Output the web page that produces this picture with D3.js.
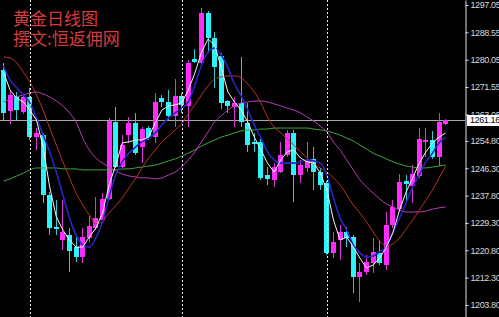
<!DOCTYPE html>
<html>
<head>
<meta charset="utf-8">
<script src="https://cdn.jsdelivr.net/npm/d3@7"></script>
<style>
  html, body { margin: 0; padding: 0; background: #000; }
  svg { display: block; }
</style>
</head>
<body>
<div id="chart-container"></div>
<script>
// daily gold candles: [open, high, low, close]
const ohlc = [
  [1276.8,1279.0,1261.3,1263.5],[1264.1,1270.6,1260.1,1269.1],[1268.8,1270.0,1261.3,1264.4],
  [1263.8,1269.1,1263.2,1268.5],[1268.5,1271.3,1255.1,1256.0],[1256.0,1258.8,1252.0,1257.3],
  [1256.6,1257.3,1235.5,1238.0],[1238.0,1238.9,1225.6,1227.7],[1228.0,1236.4,1225.6,1227.4],
  [1224.0,1236.4,1220.9,1226.5],[1225.6,1227.7,1214.1,1220.6],[1221.8,1224.9,1217.2,1218.7],
  [1218.7,1227.7,1216.9,1224.9],[1224.6,1231.5,1223.4,1228.4],[1227.7,1237.4,1227.1,1230.8],
  [1230.2,1238.6,1229.0,1236.8],[1236.8,1261.9,1236.4,1261.0],[1260.7,1265.3,1246.4,1246.7],
  [1246.7,1256.6,1246.4,1253.5],[1256.6,1262.2,1254.2,1260.4],[1260.4,1263.5,1250.4,1251.0],
  [1252.9,1259.1,1247.9,1258.5],[1258.8,1259.4,1255.1,1255.7],[1256.0,1269.7,1254.2,1266.9],
  [1268.1,1269.1,1265.3,1266.9],[1266.9,1270.6,1261.3,1262.6],[1262.6,1274.1,1259.1,1268.8],
  [1268.8,1269.7,1263.5,1266.0],[1265.7,1280.0,1259.1,1279.0],[1280.3,1283.4,1279.0,1279.3],
  [1279.0,1296.1,1278.7,1294.6],[1294.6,1295.2,1282.1,1286.8],[1286.8,1288.7,1271.3,1277.8],
  [1281.2,1282.1,1264.7,1266.6],[1267.2,1267.5,1263.5,1265.7],[1265.3,1268.5,1259.1,1266.6],
  [1266.6,1280.9,1259.1,1260.7],[1260.4,1266.6,1251.4,1253.5],[1254.5,1257.3,1251.4,1253.8],
  [1254.5,1255.7,1242.7,1243.3],[1244.2,1246.7,1241.1,1243.0],[1242.7,1247.9,1240.5,1246.7],
  [1245.1,1254.5,1244.8,1250.4],[1250.4,1258.2,1249.8,1257.3],[1257.3,1258.2,1235.8,1244.2],
  [1244.2,1248.9,1241.7,1247.3],[1246.4,1254.5,1245.1,1248.9],[1249.2,1252.9,1239.5,1245.1],
  [1245.1,1246.4,1239.5,1241.1],[1241.7,1242.3,1219.3,1220.0],[1220.0,1226.5,1218.4,1223.4],
  [1224.0,1228.7,1217.8,1226.5],[1226.5,1228.0,1221.8,1224.6],[1224.9,1225.6,1207.5,1212.5],
  [1212.5,1216.9,1204.7,1214.1],[1214.1,1219.3,1213.1,1217.2],[1216.9,1224.6,1213.7,1220.3],
  [1220.0,1224.0,1216.2,1216.9],[1216.2,1232.7,1214.7,1228.7],[1228.7,1236.4,1227.7,1234.3],
  [1233.6,1244.5,1232.7,1242.0],[1242.3,1244.2,1235.8,1241.4],[1240.8,1247.3,1235.5,1244.5],
  [1243.9,1258.8,1243.3,1255.4],[1254.5,1258.8,1249.8,1255.1],[1255.1,1257.9,1249.2,1249.8],
  [1249.8,1263.5,1247.0,1260.7],[1260.2,1261.6,1259.8,1261.16]
]

// moving averages per candle
const ma5 = [1276.2,1270.6,1268.1,1266.9,1264.4,1261.3,1252.9,1240.5,1231.2,1227.1,
  1224.0,1221.8,1221.8,1224.9,1227.7,1232.4,1241.1,1247.3,1254.2,1254.5,
  1255.1,1255.1,1256.0,1260.4,1264.4,1265.7,1266.0,1266.6,1270.6,1275.9,
  1282.4,1286.5,1284.6,1277.5,1270.0,1266.9,1264.4,1260.7,1256.0,1252.0,
  1247.9,1245.1,1248.9,1251.4,1252.0,1249.5,1248.3,1247.9,1244.8,1239.5,
  1230.2,1224.0,1224.9,1221.8,1218.4,1215.3,1216.2,1218.4,1221.8,1226.2,
  1233.3,1238.9,1243.3,1247.9,1251.4,1254.2,1256.0,1257.3]
const ma10 = [1278.1,1273.7,1271.3,1269.1,1266.6,1261.9,1256.6,1251.4,1245.1,1238.0,
  1230.8,1225.6,1222.5,1221.8,1224.6,1229.6,1237.4,1244.2,1248.3,1251.0,
  1252.9,1254.5,1255.7,1257.3,1259.8,1261.9,1263.5,1265.0,1266.9,1272.2,
  1278.4,1282.4,1283.7,1281.5,1277.5,1272.5,1268.8,1264.4,1259.8,1255.7,
  1251.4,1248.9,1247.9,1247.9,1247.9,1248.3,1248.9,1248.6,1247.9,1244.2,
  1237.1,1230.8,1227.1,1222.5,1220.0,1218.7,1219.0,1220.3,1221.8,1226.5,
  1230.8,1235.5,1240.5,1244.2,1248.3,1251.0,1254.2,1256.0]
const ma20 = [1280.9,1280.6,1279.0,1276.2,1273.1,1269.1,1264.4,1258.8,1253.5,1248.3,
  1243.3,1238.6,1234.9,1231.8,1229.0,1229.9,1232.4,1234.6,1237.1,1240.2,
  1243.0,1246.4,1249.5,1252.0,1254.5,1256.3,1258.2,1260.1,1263.2,1266.0,
  1269.1,1271.9,1274.1,1274.7,1275.0,1275.0,1274.4,1272.5,1270.0,1266.6,
  1262.2,1259.1,1257.3,1255.4,1253.5,1251.4,1249.5,1247.6,1246.4,1245.1,
  1243.3,1241.1,1238.0,1234.9,1232.4,1229.6,1226.5,1223.7,1222.1,1222.8,
  1224.6,1227.4,1230.2,1233.3,1236.4,1239.5,1243.3,1247.0]
const ma30 = [1266.9,1267.8,1268.5,1269.1,1269.7,1270.0,1269.4,1268.5,1267.2,1265.7,
  1263.5,1260.7,1255.7,1252.0,1249.5,1247.9,1246.7,1245.5,1244.5,1243.9,
  1243.6,1243.3,1243.3,1243.0,1243.3,1244.2,1245.1,1246.7,1248.9,1251.4,
  1254.5,1257.6,1260.7,1262.6,1264.4,1265.7,1266.6,1266.9,1267.2,1267.2,
  1266.9,1266.3,1265.7,1265.0,1264.4,1263.5,1262.2,1261.0,1259.4,1257.6,
  1254.5,1252.0,1248.9,1245.8,1242.7,1240.5,1238.6,1236.8,1235.2,1234.3,
  1233.3,1232.7,1232.7,1232.7,1233.0,1233.6,1234.0,1234.3]
const ma60 = [1242.3,1243.0,1243.9,1244.8,1245.8,1246.4,1246.4,1246.4,1246.4,1246.1,
  1246.1,1246.1,1245.8,1245.8,1245.8,1245.8,1245.8,1245.8,1246.1,1246.1,
  1246.4,1246.7,1247.0,1247.3,1247.9,1248.6,1249.2,1250.1,1251.0,1252.0,
  1253.2,1254.2,1255.1,1256.0,1256.6,1257.3,1257.9,1258.2,1258.2,1258.5,
  1258.5,1258.8,1258.8,1258.8,1258.8,1258.8,1258.8,1258.5,1258.2,1257.9,
  1257.3,1256.6,1255.7,1254.8,1253.5,1252.3,1251.0,1250.1,1249.2,1248.3,
  1247.6,1247.0,1246.7,1246.4,1246.4,1246.7,1247.0,1247.3]

const priceTicks = [1297.05,1288.55,1280.05,1271.55,1263.05,1254.80,1246.30,1237.80,1229.30,1220.80,1212.30,1203.80]
const lastPrice = 1261.16
const separators = [4, 27, 49]   // period separators (candle index)
const titleLines = ['黄金日线图', '撰文:恒返佣网']

const width = 499, height = 317, axisX = 465

let svg = d3.select('#chart-container')
            .append('svg')
            .attr('width', width)
            .attr('height', height)

svg.append('rect').attr('width', width).attr('height', height).attr('fill', '#000')

let x = d3.scaleBand()
          .domain(d3.range(ohlc.length))
          .range([0.2, 449])
let cx = i => x(i) + x.bandwidth() / 2

let y = d3.scaleLinear()
          .domain([1200.065, 1298.604])
          .range([height, 0])

// current price line
svg.append('line')
    .attr('x1', 0).attr('x2', axisX)
    .attr('y1', Math.round(y(lastPrice)) + 0.5).attr('y2', Math.round(y(lastPrice)) + 0.5)
    .attr('stroke', '#a8a8a8')

// candles
let up = d => d[3] >= d[0]
let candles = svg.append('g').attr('shape-rendering', 'crispEdges')
    .selectAll('g')
    .data(ohlc)
    .join('g')

candles.append('rect')
    .attr('x', (d, i) => Math.round(cx(i) - 2.5) + 2)
    .attr('width', 1)
    .attr('y', d => y(d[1]))
    .attr('height', d => y(d[2]) - y(d[1]))
    .attr('fill', d => up(d) ? '#d838d8' : '#30c8cc')

candles.append('rect')
    .attr('x', (d, i) => Math.round(cx(i) - 2.5))
    .attr('width', 5)
    .attr('y', d => y(Math.max(d[0], d[3])))
    .attr('height', d => Math.max(1.5, Math.abs(y(d[0]) - y(d[3]))))
    .attr('fill', d => up(d) ? '#ff2cff' : '#2cf4f8')

// moving averages
const maSeries = [
    {vals: ma60, color: '#3fa63f', w: 1, curve: d3.curveMonotoneX},
    {vals: ma30, color: '#b83cb8', w: 1, curve: d3.curveMonotoneX},
    {vals: ma20, color: '#b83424', w: 1, curve: d3.curveMonotoneX},
    {vals: ma10, color: '#2626c4', w: 1.6, curve: d3.curveMonotoneX},
    {vals: ma5,  color: '#f4f4f4', w: 1, curve: d3.curveLinear}
]

maSeries.forEach(s => {
    let line = d3.line()
        .x((d, i) => cx(i))
        .y(d => y(d))
        .curve(s.curve)
    svg.append('path')
        .attr('d', line(s.vals))
        .attr('fill', 'none')
        .attr('stroke', s.color)
        .attr('stroke-width', s.w)
})

// period separators
svg.append('g')
    .selectAll('line')
    .data(separators)
    .join('line')
    .attr('x1', d => Math.round(cx(d)) + 0.5)
    .attr('x2', d => Math.round(cx(d)) + 0.5)
    .attr('y1', 0).attr('y2', height)
    .attr('stroke', '#e8e8e8')
    .attr('stroke-dasharray', '2,2')

// price axis on the right
svg.append('g')
    .attr('transform', `translate(${axisX + 0.5},0)`)
    .call(d3.axisRight(y).tickValues(priceTicks).tickFormat(d3.format('.2f'))
          .tickSize(3).tickSizeOuter(0).tickPadding(2))
    .call(g => g.select('.domain').attr('stroke', '#e0e0e0'))
    .call(g => g.selectAll('.tick line').attr('stroke', '#e0e0e0'))
    .call(g => g.selectAll('.tick text')
        .attr('fill', '#d8d8d8')
        .attr('font-family', 'Liberation Sans, Arial, sans-serif')
        .attr('font-size', 9)
        .attr('letter-spacing', -0.4))

// last price tag
let tagY = y(lastPrice)
svg.append('rect')
    .attr('x', axisX + 2).attr('y', Math.round(tagY) - 5)
    .attr('width', 32).attr('height', 11)
    .attr('fill', '#fff')
svg.append('text')
    .attr('x', axisX + 5).attr('y', tagY)
    .attr('dy', '0.32em')
    .attr('font-family', 'Liberation Sans, Arial, sans-serif')
    .attr('font-size', 9)
    .attr('letter-spacing', -0.4)
    .attr('fill', '#000')
    .text(d3.format('.2f')(lastPrice))

// title
svg.append('g')
    .selectAll('text')
    .data(titleLines)
    .join('text')
    .attr('x', 13)
    .attr('y', (d, i) => 25 + i * 20)
    .attr('fill', '#d63c3c')
    .attr('font-family', 'Noto Sans CJK SC')
    .attr('font-size', 17)
    .text(d => d)
</script>
</body>
</html>
